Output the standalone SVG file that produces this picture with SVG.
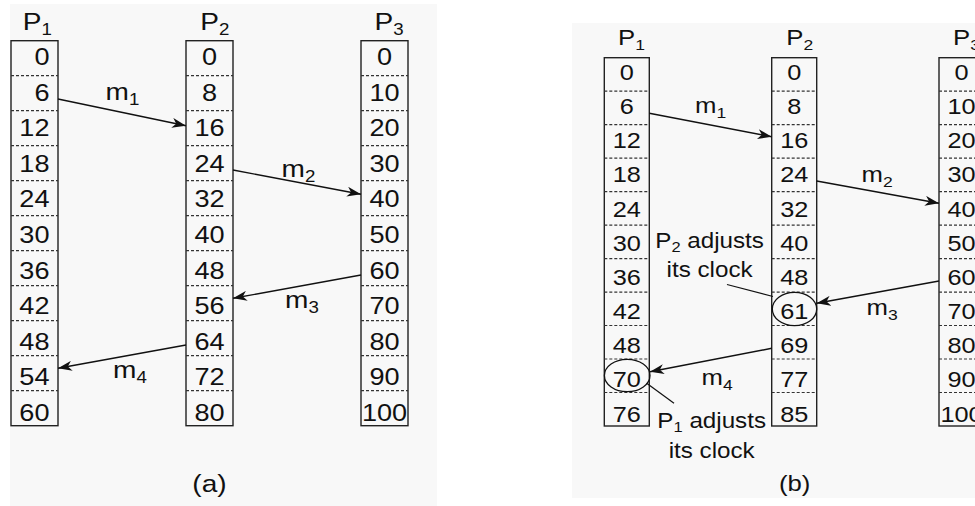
<svg xmlns="http://www.w3.org/2000/svg" width="975" height="506" viewBox="0 0 975 506">
<defs>
<style>
.bg{fill:#f8f8f8;stroke:none}
.box{fill:none;stroke:#222;stroke-width:1.4}
.dash{stroke:#333;stroke-width:1.2;stroke-dasharray:3 2}
.t{font-family:"Liberation Sans",Arial,sans-serif;fill:#111}
.a{font-size:24px}
.b{font-size:22px}
.m{text-anchor:middle}
.e{text-anchor:end}
.msg{stroke:#111;stroke-width:1.4;fill:none}
.lead{stroke:#111;stroke-width:1.2;fill:none}
.ell{fill:none;stroke:#111;stroke-width:1.3}
</style>
<marker id="ah" markerUnits="userSpaceOnUse" markerWidth="15" markerHeight="10" refX="14" refY="5" orient="auto">
<path d="M0,0 L14,5 L0,10 L4,5 z" fill="#111"/>
</marker>
</defs>
<rect class="bg" x="10" y="4" width="427" height="502"/>
<rect class="bg" x="572" y="23" width="403" height="475"/>

<!-- (a) -->
<g id="a-P1">
<rect class="box" x="11" y="40.7" width="47" height="385"/>
<path class="dash" d="M11,75.7H58M11,110.7H58M11,145.7H58M11,180.7H58M11,215.7H58M11,250.7H58M11,285.7H58M11,320.7H58M11,355.7H58M11,390.7H58"/>
<g transform="translate(22.8,0) scale(1.17,1)"><text class="t a" x="0" y="30">P<tspan font-size="16" dy="5">1</tspan></text></g>
<g class="t a e" transform="translate(49.5,0) scale(1.13,1)">
<text x="0" y="65">0</text><text x="0" y="100.6">6</text><text x="0" y="136.2">12</text><text x="0" y="171.8">18</text><text x="0" y="207.4">24</text><text x="0" y="243">30</text><text x="0" y="278.6">36</text><text x="0" y="314.2">42</text><text x="0" y="349.8">48</text><text x="0" y="385.4">54</text><text x="0" y="421">60</text>
</g>
</g>
<g id="a-P2">
<rect class="box" x="186" y="40.7" width="47" height="385"/>
<path class="dash" d="M186,75.7H233M186,110.7H233M186,145.7H233M186,180.7H233M186,215.7H233M186,250.7H233M186,285.7H233M186,320.7H233M186,355.7H233M186,390.7H233"/>
<g transform="translate(200.2,0) scale(1.17,1)"><text class="t a" x="0" y="30">P<tspan font-size="16" dy="5">2</tspan></text></g>
<g class="t a m" transform="translate(209.5,0) scale(1.13,1)">
<text x="0" y="65">0</text><text x="0" y="100.6">8</text><text x="0" y="136.2">16</text><text x="0" y="171.8">24</text><text x="0" y="207.4">32</text><text x="0" y="243">40</text><text x="0" y="278.6">48</text><text x="0" y="314.2">56</text><text x="0" y="349.8">64</text><text x="0" y="385.4">72</text><text x="0" y="421">80</text>
</g>
</g>
<g id="a-P3">
<rect class="box" x="361" y="40.7" width="47" height="385"/>
<path class="dash" d="M361,75.7H408M361,110.7H408M361,145.7H408M361,180.7H408M361,215.7H408M361,250.7H408M361,285.7H408M361,320.7H408M361,355.7H408M361,390.7H408"/>
<g transform="translate(374.5,0) scale(1.17,1)"><text class="t a" x="0" y="30">P<tspan font-size="16" dy="5">3</tspan></text></g>
<g class="t a m" transform="translate(384.5,0) scale(1.13,1)">
<text x="0" y="65">0</text><text x="0" y="100.6">10</text><text x="0" y="136.2">20</text><text x="0" y="171.8">30</text><text x="0" y="207.4">40</text><text x="0" y="243">50</text><text x="0" y="278.6">60</text><text x="0" y="314.2">70</text><text x="0" y="349.8">80</text><text x="0" y="385.4">90</text><text x="0" y="421">100</text>
</g>
</g>
<g id="a-connectors">
<line class="msg" x1="58" y1="99" x2="186" y2="125.7" marker-end="url(#ah)"/>
<line class="msg" x1="233" y1="170" x2="361" y2="194.3" marker-end="url(#ah)"/>
<line class="msg" x1="361" y1="275" x2="233" y2="298.3" marker-end="url(#ah)"/>
<line class="msg" x1="186" y1="345" x2="58" y2="368.3" marker-end="url(#ah)"/>
<g transform="translate(105.5,0) scale(1.17,1)"><text class="t a" x="0" y="100">m<tspan font-size="16" dy="5">1</tspan></text></g>
<g transform="translate(281.5,0) scale(1.17,1)"><text class="t a" x="0" y="176.7">m<tspan font-size="16" dy="5">2</tspan></text></g>
<g transform="translate(285,0) scale(1.17,1)"><text class="t a" x="0" y="308.3">m<tspan font-size="16" dy="5">3</tspan></text></g>
<g transform="translate(113,0) scale(1.17,1)"><text class="t a" x="0" y="378.3">m<tspan font-size="16" dy="5">4</tspan></text></g>
</g>
<g transform="translate(209.5,0) scale(1.17,1)"><text class="t a m" x="0" y="492">(a)</text></g>

<!-- (b) -->
<g id="b-P1">
<rect class="box" x="604.3" y="57.7" width="45" height="368.3"/>
<path class="dash" d="M604.3,91.2H649.3M604.3,124.7H649.3M604.3,158.1H649.3M604.3,191.6H649.3M604.3,225.1H649.3M604.3,258.6H649.3M604.3,292.1H649.3M604.3,325.5H649.3M604.3,359H649.3M604.3,392.5H649.3"/>
<g transform="translate(618,0) scale(1.17,1)"><text class="t b" x="0" y="45">P<tspan font-size="15" dy="5">1</tspan></text></g>
<g class="t b m" transform="translate(626.8,0) scale(1.15,1)">
<text x="0" y="80">0</text><text x="0" y="114.2">6</text><text x="0" y="148.3">12</text><text x="0" y="182.5">18</text><text x="0" y="216.7">24</text><text x="0" y="250.9">30</text><text x="0" y="285">36</text><text x="0" y="319.2">42</text><text x="0" y="353.4">48</text><text x="0" y="387.5">70</text><text x="0" y="421.7">76</text>
</g>
</g>
<g id="b-P2">
<rect class="box" x="771.7" y="57.7" width="45" height="368.3"/>
<path class="dash" d="M771.7,91.2H816.7M771.7,124.7H816.7M771.7,158.1H816.7M771.7,191.6H816.7M771.7,225.1H816.7M771.7,258.6H816.7M771.7,292.1H816.7M771.7,325.5H816.7M771.7,359H816.7M771.7,392.5H816.7"/>
<g transform="translate(786.3,0) scale(1.17,1)"><text class="t b" x="0" y="45">P<tspan font-size="15" dy="5">2</tspan></text></g>
<g class="t b m" transform="translate(794.2,0) scale(1.15,1)">
<text x="0" y="80">0</text><text x="0" y="114.2">8</text><text x="0" y="148.3">16</text><text x="0" y="182.5">24</text><text x="0" y="216.7">32</text><text x="0" y="250.9">40</text><text x="0" y="285">48</text><text x="0" y="319.2">61</text><text x="0" y="353.4">69</text><text x="0" y="387.5">77</text><text x="0" y="421.7">85</text>
</g>
</g>
<g id="b-P3">
<rect class="box" x="939" y="57.7" width="45" height="368.3"/>
<path class="dash" d="M939,91.2H984M939,124.7H984M939,158.1H984M939,191.6H984M939,225.1H984M939,258.6H984M939,292.1H984M939,325.5H984M939,359H984M939,392.5H984"/>
<g transform="translate(953,0) scale(1.17,1)"><text class="t b" x="0" y="45">P<tspan font-size="15" dy="5">3</tspan></text></g>
<g class="t b m" transform="translate(961.5,0) scale(1.15,1)">
<text x="0" y="80">0</text><text x="0" y="114.2">10</text><text x="0" y="148.3">20</text><text x="0" y="182.5">30</text><text x="0" y="216.7">40</text><text x="0" y="250.9">50</text><text x="0" y="285">60</text><text x="0" y="319.2">70</text><text x="0" y="353.4">80</text><text x="0" y="387.5">90</text><text x="0" y="421.7">100</text>
</g>
</g>
<g id="b-connectors">
<line class="msg" x1="649.3" y1="113.3" x2="771.7" y2="136.7" marker-end="url(#ah)"/>
<line class="msg" x1="816.7" y1="181" x2="939" y2="203.3" marker-end="url(#ah)"/>
<line class="msg" x1="939" y1="281" x2="816.7" y2="303.3" marker-end="url(#ah)"/>
<line class="msg" x1="771.7" y1="348.3" x2="650" y2="371.7" marker-end="url(#ah)"/>
<g transform="translate(695,0) scale(1.17,1)"><text class="t b" x="0" y="113.3">m<tspan font-size="15" dy="5">1</tspan></text></g>
<g transform="translate(861.6,0) scale(1.17,1)"><text class="t b" x="0" y="181.7">m<tspan font-size="15" dy="5">2</tspan></text></g>
<g transform="translate(866.6,0) scale(1.17,1)"><text class="t b" x="0" y="315">m<tspan font-size="15" dy="5">3</tspan></text></g>
<g transform="translate(701.6,0) scale(1.17,1)"><text class="t b" x="0" y="385">m<tspan font-size="15" dy="5">4</tspan></text></g>
</g>
<g id="b-adjust-P2">
<ellipse class="ell" cx="794.5" cy="309" rx="22.2" ry="16.7"/>
<line class="lead" x1="727" y1="284.5" x2="773" y2="296.5"/>
<g class="t b m" transform="translate(709.6,0) scale(1.1,1)">
<text x="0" y="248.3">P<tspan font-size="15" dy="4">2</tspan><tspan dy="-4"> adjusts</tspan></text>
<text x="0" y="277.5">its clock</text>
</g>
</g>
<g id="b-adjust-P1">
<ellipse class="ell" cx="627.2" cy="375.5" rx="22.8" ry="16.2"/>
<line class="lead" x1="646.7" y1="383.3" x2="674" y2="403.3"/>
<g class="t b m" transform="translate(711.7,0) scale(1.1,1)">
<text x="0" y="428.3">P<tspan font-size="15" dy="4">1</tspan><tspan dy="-4"> adjusts</tspan></text>
<text x="0" y="458.3">its clock</text>
</g>
</g>
<g transform="translate(794.7,0) scale(1.17,1)"><text class="t b m" x="0" y="491">(b)</text></g>
</svg>
